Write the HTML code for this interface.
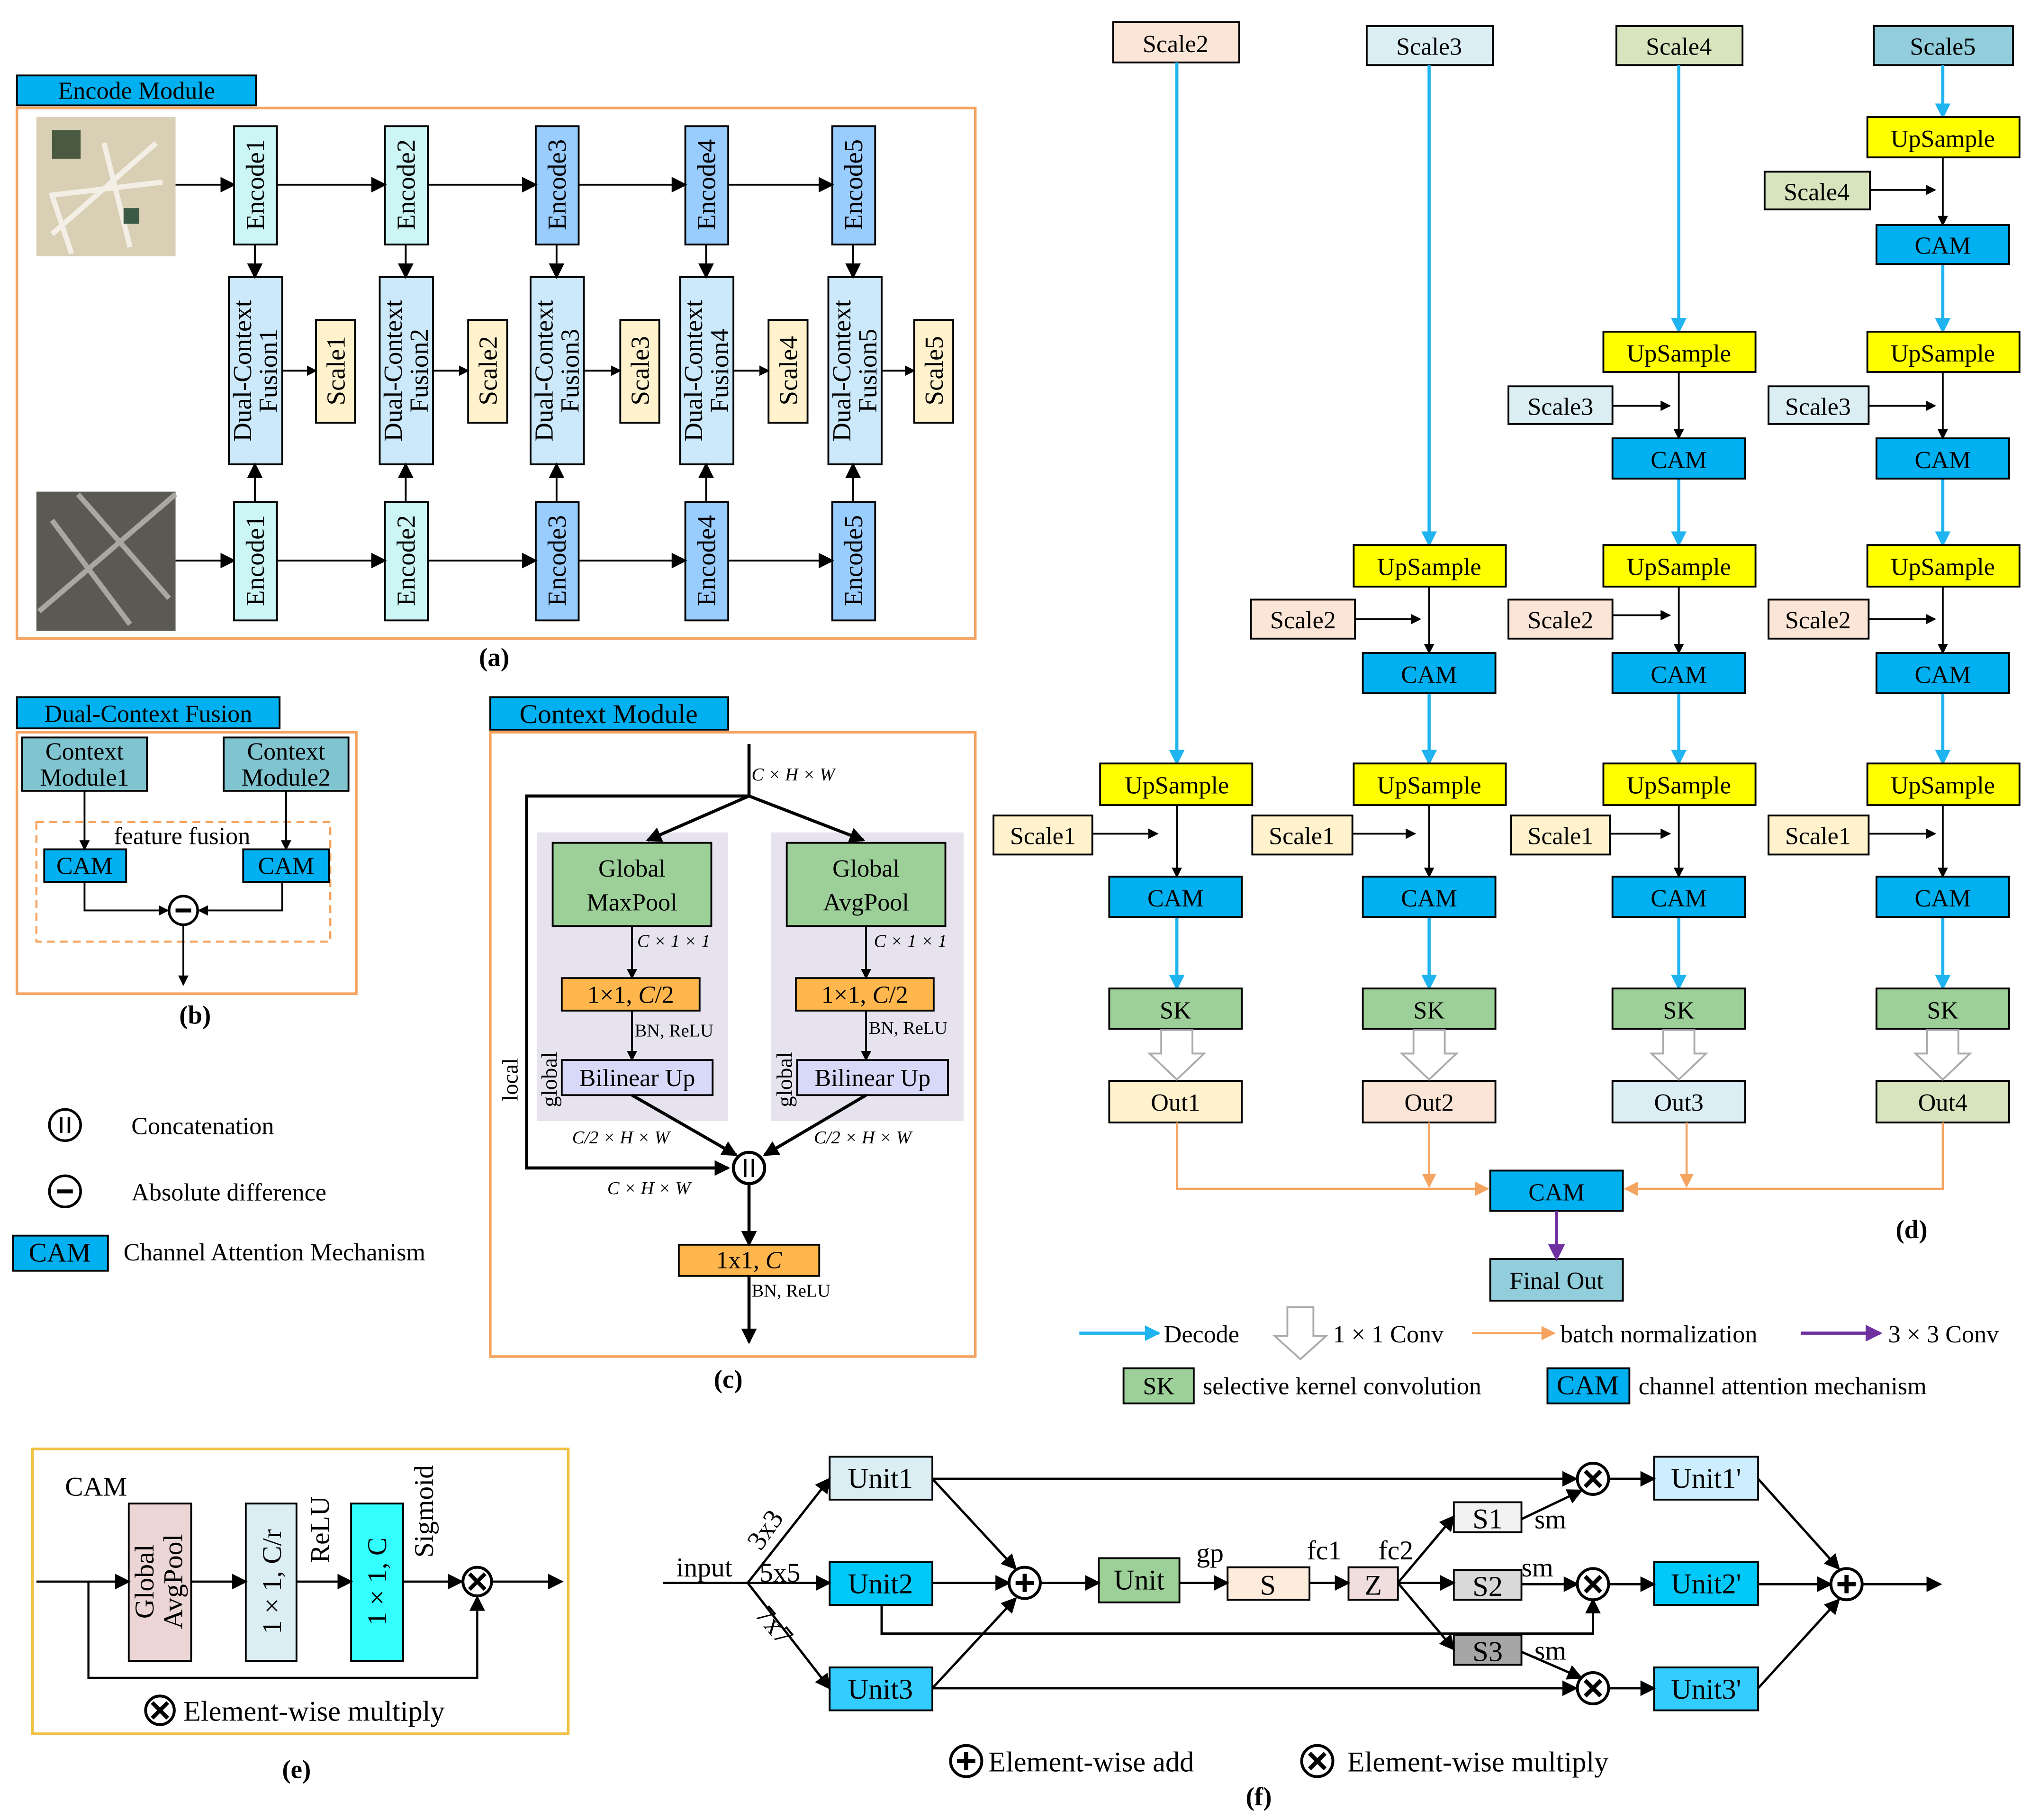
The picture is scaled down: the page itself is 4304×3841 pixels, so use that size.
<!DOCTYPE html>
<html><head><meta charset="utf-8"><style>html,body{margin:0;padding:0;background:#fff}svg{display:block}</style></head>
<body>
<svg xmlns="http://www.w3.org/2000/svg" width="4304" height="3841" viewBox="0 0 1568 1399.3" font-family="Liberation Serif, serif" font-size="19">
<defs>
<marker id="ak" markerWidth="8" markerHeight="8" refX="7" refY="4" orient="auto" markerUnits="userSpaceOnUse"><path d="M0,0 L8,4 L0,8z" fill="#000"/></marker>
<marker id="ab" viewBox="0 0 8 8" markerWidth="12" markerHeight="12" refX="7" refY="4" orient="auto" markerUnits="userSpaceOnUse"><path d="M0,0 L8,4 L0,8z" fill="#1fb4f0"/></marker>
<marker id="ao" viewBox="0 0 8 8" markerWidth="11" markerHeight="11" refX="7" refY="4" orient="auto" markerUnits="userSpaceOnUse"><path d="M0,0 L8,4 L0,8z" fill="#f4a460"/></marker>
<marker id="ap" viewBox="0 0 8 8" markerWidth="13" markerHeight="13" refX="7" refY="4" orient="auto" markerUnits="userSpaceOnUse"><path d="M0,0 L8,4 L0,8z" fill="#7030a0"/></marker>
<marker id="am" viewBox="0 0 8 8" markerWidth="12" markerHeight="12" refX="7" refY="4" orient="auto" markerUnits="userSpaceOnUse"><path d="M0,0 L8,4 L0,8z" fill="#000"/></marker>
</defs>
<g stroke-width="1.4">
<!-- (a) -->
<rect x="13" y="58" width="184" height="23" fill="#00b0f0" stroke="#000"/>
<text x="105" y="76" text-anchor="middle">Encode Module</text>
<rect x="13" y="83" width="737" height="408" fill="none" stroke="#f4a460" stroke-width="2"/>
<rect x="28" y="90" width="107" height="107" fill="#d9cfb4"/>
<path d="M40,180 L120,110 M55,195 L40,150 L125,140 M80,110 L100,190" stroke="#f3efe6" stroke-width="4" fill="none"/>
<rect x="40" y="100" width="22" height="22" fill="#4a5a40"/><rect x="95" y="160" width="12" height="12" fill="#3a5a45"/>
<rect x="28" y="378" width="107" height="107" fill="#5a5a52"/>
<path d="M30,470 L135,380 M40,400 L100,480 M60,380 L130,460" stroke="#a8a8a0" stroke-width="4" fill="none"/>
<g stroke="#000">
<line x1="135" y1="142" x2="180" y2="142" marker-end="url(#am)"/>
<line x1="135" y1="431" x2="180" y2="431" marker-end="url(#am)"/>
</g>
<g stroke="#000">
<rect x="180" y="97" width="33" height="91" fill="#ccf5f5"/><rect x="180" y="386" width="33" height="91" fill="#ccf5f5"/>
<rect x="296" y="97" width="33" height="91" fill="#ccf5f5"/><rect x="296" y="386" width="33" height="91" fill="#ccf5f5"/>
<rect x="412" y="97" width="33" height="91" fill="#99ccff"/><rect x="412" y="386" width="33" height="91" fill="#99ccff"/>
<rect x="527" y="97" width="33" height="91" fill="#99ccff"/><rect x="527" y="386" width="33" height="91" fill="#99ccff"/>
<rect x="640" y="97" width="33" height="91" fill="#99ccff"/><rect x="640" y="386" width="33" height="91" fill="#99ccff"/>
<rect x="176" y="213" width="41" height="144" fill="#cce9fb"/>
<rect x="292" y="213" width="41" height="144" fill="#cce9fb"/>
<rect x="408" y="213" width="41" height="144" fill="#cce9fb"/>
<rect x="523" y="213" width="41" height="144" fill="#cce9fb"/>
<rect x="637" y="213" width="41" height="144" fill="#cce9fb"/>
<rect x="243" y="246" width="30" height="79" fill="#fff2cc"/>
<rect x="360" y="246" width="30" height="79" fill="#fff2cc"/>
<rect x="477" y="246" width="30" height="79" fill="#fff2cc"/>
<rect x="591" y="246" width="30" height="79" fill="#fff2cc"/>
<rect x="703" y="246" width="30" height="79" fill="#fff2cc"/>
<g fill="none">
<line x1="213" y1="142" x2="296" y2="142" marker-end="url(#am)"/><line x1="329" y1="142" x2="412" y2="142" marker-end="url(#am)"/><line x1="445" y1="142" x2="527" y2="142" marker-end="url(#am)"/><line x1="560" y1="142" x2="640" y2="142" marker-end="url(#am)"/>
<line x1="213" y1="431" x2="296" y2="431" marker-end="url(#am)"/><line x1="329" y1="431" x2="412" y2="431" marker-end="url(#am)"/><line x1="445" y1="431" x2="527" y2="431" marker-end="url(#am)"/><line x1="560" y1="431" x2="640" y2="431" marker-end="url(#am)"/>
<line x1="196" y1="188" x2="196" y2="213" marker-end="url(#am)"/><line x1="312" y1="188" x2="312" y2="213" marker-end="url(#am)"/><line x1="428" y1="188" x2="428" y2="213" marker-end="url(#am)"/><line x1="543" y1="188" x2="543" y2="213" marker-end="url(#am)"/><line x1="656" y1="188" x2="656" y2="213" marker-end="url(#am)"/>
<line x1="196" y1="386" x2="196" y2="357" marker-end="url(#am)"/><line x1="312" y1="386" x2="312" y2="357" marker-end="url(#am)"/><line x1="428" y1="386" x2="428" y2="357" marker-end="url(#am)"/><line x1="543" y1="386" x2="543" y2="357" marker-end="url(#am)"/><line x1="656" y1="386" x2="656" y2="357" marker-end="url(#am)"/>
<line x1="217" y1="285" x2="243" y2="285" marker-end="url(#ak)"/><line x1="333" y1="285" x2="360" y2="285" marker-end="url(#ak)"/><line x1="449" y1="285" x2="477" y2="285" marker-end="url(#ak)"/><line x1="564" y1="285" x2="591" y2="285" marker-end="url(#ak)"/><line x1="678" y1="285" x2="703" y2="285" marker-end="url(#ak)"/>
</g>
</g>
<g font-size="20">
<text transform="translate(203,142) rotate(-90)" text-anchor="middle">Encode1</text><text transform="translate(203,431) rotate(-90)" text-anchor="middle">Encode1</text>
<text transform="translate(319,142) rotate(-90)" text-anchor="middle">Encode2</text><text transform="translate(319,431) rotate(-90)" text-anchor="middle">Encode2</text>
<text transform="translate(435,142) rotate(-90)" text-anchor="middle">Encode3</text><text transform="translate(435,431) rotate(-90)" text-anchor="middle">Encode3</text>
<text transform="translate(550,142) rotate(-90)" text-anchor="middle">Encode4</text><text transform="translate(550,431) rotate(-90)" text-anchor="middle">Encode4</text>
<text transform="translate(663,142) rotate(-90)" text-anchor="middle">Encode5</text><text transform="translate(663,431) rotate(-90)" text-anchor="middle">Encode5</text>
<text transform="translate(193,285) rotate(-90)" text-anchor="middle">Dual-Context</text><text transform="translate(213,285) rotate(-90)" text-anchor="middle">Fusion1</text>
<text transform="translate(309,285) rotate(-90)" text-anchor="middle">Dual-Context</text><text transform="translate(329,285) rotate(-90)" text-anchor="middle">Fusion2</text>
<text transform="translate(425,285) rotate(-90)" text-anchor="middle">Dual-Context</text><text transform="translate(445,285) rotate(-90)" text-anchor="middle">Fusion3</text>
<text transform="translate(540,285) rotate(-90)" text-anchor="middle">Dual-Context</text><text transform="translate(560,285) rotate(-90)" text-anchor="middle">Fusion4</text>
<text transform="translate(654,285) rotate(-90)" text-anchor="middle">Dual-Context</text><text transform="translate(674,285) rotate(-90)" text-anchor="middle">Fusion5</text>
<text transform="translate(265,285) rotate(-90)" text-anchor="middle">Scale1</text>
<text transform="translate(382,285) rotate(-90)" text-anchor="middle">Scale2</text>
<text transform="translate(499,285) rotate(-90)" text-anchor="middle">Scale3</text>
<text transform="translate(613,285) rotate(-90)" text-anchor="middle">Scale4</text>
<text transform="translate(725,285) rotate(-90)" text-anchor="middle">Scale5</text>
</g>
<text x="380" y="512" text-anchor="middle" font-weight="bold" font-size="20">(a)</text>

<!-- (b) -->
<rect x="13" y="536" width="202" height="24" fill="#00b0f0" stroke="#000"/>
<text x="114" y="555" text-anchor="middle">Dual-Context Fusion</text>
<rect x="13" y="563" width="261" height="201" fill="none" stroke="#f4a460" stroke-width="2"/>
<rect x="17" y="567" width="96" height="41" fill="#7fc4cf" stroke="#000"/>
<rect x="172" y="567" width="96" height="41" fill="#7fc4cf" stroke="#000"/>
<text x="65" y="584" text-anchor="middle">Context</text><text x="65" y="604" text-anchor="middle">Module1</text>
<text x="220" y="584" text-anchor="middle">Context</text><text x="220" y="604" text-anchor="middle">Module2</text>
<rect x="28" y="632" width="226" height="92" fill="none" stroke="#f4a460" stroke-dasharray="6,4" stroke-width="1.6"/>
<text x="140" y="649" text-anchor="middle">feature fusion</text>
<rect x="34" y="653" width="63" height="25" fill="#00b0f0" stroke="#000"/><text x="65" y="672" text-anchor="middle">CAM</text>
<rect x="187" y="653" width="66" height="25" fill="#00b0f0" stroke="#000"/><text x="220" y="672" text-anchor="middle">CAM</text>
<g stroke="#000" fill="none">
<line x1="65" y1="608" x2="65" y2="653" marker-end="url(#ak)"/><line x1="220" y1="608" x2="220" y2="653" marker-end="url(#ak)"/>
<polyline points="65,678 65,700 129,700" marker-end="url(#ak)"/><polyline points="217,678 217,700 153,700" marker-end="url(#ak)"/>
<circle cx="141" cy="700" r="11" stroke-width="2"/><line x1="135" y1="700" x2="147" y2="700" stroke-width="3"/>
<line x1="141" y1="711" x2="141" y2="757" marker-end="url(#ak)"/>
</g>
<text x="150" y="787" text-anchor="middle" font-weight="bold" font-size="20">(b)</text>

<!-- legend -->
<g stroke="#000" fill="none" stroke-width="2">
<circle cx="50" cy="865" r="12"/><line x1="47" y1="859" x2="47" y2="871"/><line x1="53" y1="859" x2="53" y2="871"/>
<circle cx="50" cy="916" r="12"/><line x1="44" y1="916" x2="56" y2="916" stroke-width="3"/>
</g>
<text x="101" y="872">Concatenation</text>
<text x="101" y="923">Absolute difference</text>
<rect x="10" y="950" width="73" height="27" fill="#00b0f0" stroke="#000"/><text x="46" y="970" text-anchor="middle" font-size="21">CAM</text>
<text x="95" y="969">Channel Attention Mechanism</text>

<!-- (c) -->
<rect x="377" y="536" width="183" height="25" fill="#00b0f0" stroke="#000"/>
<text x="468" y="556" text-anchor="middle" font-size="21">Context Module</text>
<rect x="377" y="563" width="373" height="480" fill="none" stroke="#f4a460" stroke-width="2"/>
<rect x="413" y="640" width="147" height="222" fill="#e6e3ee"/>
<rect x="593" y="640" width="148" height="222" fill="#e6e3ee"/>
<rect x="425" y="648" width="122" height="64" fill="#9dcf99" stroke="#000"/>
<rect x="605" y="648" width="122" height="64" fill="#9dcf99" stroke="#000"/>
<text x="486" y="674" text-anchor="middle">Global</text><text x="486" y="700" text-anchor="middle">MaxPool</text>
<text x="666" y="674" text-anchor="middle">Global</text><text x="666" y="700" text-anchor="middle">AvgPool</text>
<rect x="432" y="752" width="106" height="25" fill="#ffb74d" stroke="#000"/><text x="485" y="771" text-anchor="middle">1×1, <tspan font-style="italic">C</tspan>/2</text>
<rect x="612" y="752" width="106" height="25" fill="#ffb74d" stroke="#000"/><text x="665" y="771" text-anchor="middle">1×1, <tspan font-style="italic">C</tspan>/2</text>
<rect x="432" y="815" width="116" height="27" fill="#d8d8f8" stroke="#000"/><text x="490" y="835" text-anchor="middle">Bilinear Up</text>
<rect x="613" y="815" width="116" height="27" fill="#d8d8f8" stroke="#000"/><text x="671" y="835" text-anchor="middle">Bilinear Up</text>
<rect x="522" y="957" width="108" height="24" fill="#ffb74d" stroke="#000"/><text x="576" y="975" text-anchor="middle">1x1, <tspan font-style="italic">C</tspan></text>
<g stroke="#000" fill="none" stroke-width="2.4">
<line x1="576" y1="572" x2="576" y2="612"/>
<line x1="576" y1="612" x2="498" y2="646" marker-end="url(#am)"/>
<line x1="576" y1="612" x2="664" y2="646" marker-end="url(#am)"/>
<polyline points="576,612 405,612 405,898 560,898" marker-end="url(#am)"/>
<line x1="486" y1="842" x2="566" y2="888" marker-end="url(#am)"/>
<line x1="666" y1="842" x2="588" y2="888" marker-end="url(#am)"/>
<circle cx="576" cy="898" r="12"/><line x1="573" y1="891" x2="573" y2="905" stroke-width="2"/><line x1="579" y1="891" x2="579" y2="905" stroke-width="2"/>
<line x1="576" y1="910" x2="576" y2="957" marker-end="url(#am)"/>
<line x1="576" y1="981" x2="576" y2="1032" marker-end="url(#am)"/>
</g>
<g stroke="#000" fill="none" stroke-width="1.4">
<line x1="486" y1="712" x2="486" y2="752" marker-end="url(#ak)"/><line x1="666" y1="712" x2="666" y2="752" marker-end="url(#ak)"/>
<line x1="486" y1="777" x2="486" y2="815" marker-end="url(#ak)"/><line x1="666" y1="777" x2="666" y2="815" marker-end="url(#ak)"/>
</g>
<g font-size="14" font-style="italic">
<text x="578" y="600">C × H × W</text>
<text x="490" y="728">C × 1 × 1</text><text x="672" y="728">C × 1 × 1</text>
<text x="440" y="879">C/2 × H × W</text><text x="626" y="879">C/2 × H × W</text>
<text x="467" y="918">C × H × W</text>
</g>
<g font-size="14"><text x="488" y="797">BN, ReLU</text><text x="668" y="795">BN, ReLU</text><text x="578" y="997">BN,  ReLU</text></g>
<text transform="translate(398,830) rotate(-90)" text-anchor="middle" font-size="17">local</text>
<text transform="translate(428,830) rotate(-90)" text-anchor="middle" font-size="17">global</text>
<text transform="translate(609,830) rotate(-90)" text-anchor="middle" font-size="17">global</text>
<text x="560" y="1067" text-anchor="middle" font-weight="bold" font-size="20">(c)</text>

<!-- (d) -->
<g stroke="#000">
<rect x="856" y="17" width="97" height="31" fill="#fbe5d6"/><rect x="1051" y="20" width="97" height="30" fill="#daeef3"/>
<rect x="1243" y="20" width="97" height="30" fill="#d7e4bd"/><rect x="1441" y="20" width="107" height="30" fill="#92cddc"/>
</g>
<text x="904" y="40" text-anchor="middle">Scale2</text><text x="1099" y="42" text-anchor="middle">Scale3</text>
<text x="1291" y="42" text-anchor="middle">Scale4</text><text x="1494" y="42" text-anchor="middle">Scale5</text>
<g stroke="#1fb4f0" stroke-width="2.4" fill="none">
<line x1="905" y1="48" x2="905" y2="587" marker-end="url(#ab)"/>
<line x1="1099" y1="50" x2="1099" y2="419" marker-end="url(#ab)"/>
<line x1="1291" y1="50" x2="1291" y2="255" marker-end="url(#ab)"/>
<line x1="1494" y1="50" x2="1494" y2="90" marker-end="url(#ab)"/>
<line x1="1494" y1="203" x2="1494" y2="255" marker-end="url(#ab)"/>
<line x1="1494" y1="368" x2="1494" y2="419" marker-end="url(#ab)"/>
<line x1="1291" y1="368" x2="1291" y2="419" marker-end="url(#ab)"/>
<line x1="1494" y1="533" x2="1494" y2="587" marker-end="url(#ab)"/>
<line x1="1291" y1="533" x2="1291" y2="587" marker-end="url(#ab)"/>
<line x1="1099" y1="533" x2="1099" y2="587" marker-end="url(#ab)"/>
<line x1="905" y1="705" x2="905" y2="760" marker-end="url(#ab)"/>
<line x1="1099" y1="705" x2="1099" y2="760" marker-end="url(#ab)"/>
<line x1="1291" y1="705" x2="1291" y2="760" marker-end="url(#ab)"/>
<line x1="1494" y1="705" x2="1494" y2="760" marker-end="url(#ab)"/>
</g>
<g stroke="#000">
<rect x="1436" y="90" width="117" height="31" fill="#ffff00"/>
<rect x="1357" y="132" width="81" height="29" fill="#d7e4bd"/>
<rect x="1443" y="173" width="102" height="30" fill="#00b0f0"/>
<rect x="1233" y="255" width="117" height="31" fill="#ffff00"/><rect x="1436" y="255" width="117" height="31" fill="#ffff00"/>
<rect x="1160" y="297" width="80" height="29" fill="#daeef3"/><rect x="1360" y="297" width="77" height="29" fill="#daeef3"/>
<rect x="1240" y="337" width="102" height="31" fill="#00b0f0"/><rect x="1443" y="337" width="102" height="31" fill="#00b0f0"/>
<rect x="1041" y="419" width="117" height="32" fill="#ffff00"/><rect x="1233" y="419" width="117" height="32" fill="#ffff00"/><rect x="1436" y="419" width="117" height="32" fill="#ffff00"/>
<rect x="962" y="461" width="80" height="30" fill="#fbe5d6"/><rect x="1160" y="461" width="80" height="30" fill="#fbe5d6"/><rect x="1360" y="461" width="77" height="30" fill="#fbe5d6"/>
<rect x="1048" y="502" width="102" height="31" fill="#00b0f0"/><rect x="1240" y="502" width="102" height="31" fill="#00b0f0"/><rect x="1443" y="502" width="102" height="31" fill="#00b0f0"/>
<rect x="846" y="587" width="117" height="32" fill="#ffff00"/><rect x="1041" y="587" width="117" height="32" fill="#ffff00"/><rect x="1233" y="587" width="117" height="32" fill="#ffff00"/><rect x="1436" y="587" width="117" height="32" fill="#ffff00"/>
<rect x="764" y="627" width="76" height="30" fill="#fff2cc"/><rect x="963" y="627" width="77" height="30" fill="#fff2cc"/><rect x="1162" y="627" width="76" height="30" fill="#fff2cc"/><rect x="1360" y="627" width="77" height="30" fill="#fff2cc"/>
<rect x="853" y="674" width="102" height="31" fill="#00b0f0"/><rect x="1048" y="674" width="102" height="31" fill="#00b0f0"/><rect x="1240" y="674" width="102" height="31" fill="#00b0f0"/><rect x="1443" y="674" width="102" height="31" fill="#00b0f0"/>
<rect x="853" y="760" width="102" height="31" fill="#9dcf99"/><rect x="1048" y="760" width="102" height="31" fill="#9dcf99"/><rect x="1240" y="760" width="102" height="31" fill="#9dcf99"/><rect x="1443" y="760" width="102" height="31" fill="#9dcf99"/>
<rect x="853" y="831" width="102" height="32" fill="#fff2cc"/><rect x="1048" y="831" width="102" height="32" fill="#fbe5d6"/><rect x="1240" y="831" width="102" height="32" fill="#daeef3"/><rect x="1443" y="831" width="102" height="32" fill="#d7e4bd"/>
<rect x="1146" y="900" width="102" height="31" fill="#00b0f0"/>
<rect x="1146" y="968" width="102" height="32" fill="#92cddc"/>
</g>
<g text-anchor="middle">
<text x="1494" y="113">UpSample</text><text x="1397" y="154">Scale4</text><text x="1494" y="195">CAM</text>
<text x="1291" y="278">UpSample</text><text x="1494" y="278">UpSample</text>
<text x="1200" y="319">Scale3</text><text x="1398" y="319">Scale3</text>
<text x="1291" y="360">CAM</text><text x="1494" y="360">CAM</text>
<text x="1099" y="442">UpSample</text><text x="1291" y="442">UpSample</text><text x="1494" y="442">UpSample</text>
<text x="1002" y="483">Scale2</text><text x="1200" y="483">Scale2</text><text x="1398" y="483">Scale2</text>
<text x="1099" y="525">CAM</text><text x="1291" y="525">CAM</text><text x="1494" y="525">CAM</text>
<text x="905" y="610">UpSample</text><text x="1099" y="610">UpSample</text><text x="1291" y="610">UpSample</text><text x="1494" y="610">UpSample</text>
<text x="802" y="649">Scale1</text><text x="1001" y="649">Scale1</text><text x="1200" y="649">Scale1</text><text x="1398" y="649">Scale1</text>
<text x="904" y="697">CAM</text><text x="1099" y="697">CAM</text><text x="1291" y="697">CAM</text><text x="1494" y="697">CAM</text>
<text x="904" y="783">SK</text><text x="1099" y="783">SK</text><text x="1291" y="783">SK</text><text x="1494" y="783">SK</text>
<text x="904" y="854">Out1</text><text x="1099" y="854">Out2</text><text x="1291" y="854">Out3</text><text x="1494" y="854">Out4</text>
<text x="1197" y="923">CAM</text><text x="1197" y="991">Final Out</text>
</g>
<g stroke="#000" fill="none" stroke-width="1.4">
<line x1="1494" y1="121" x2="1494" y2="173" marker-end="url(#ak)"/><line x1="1438" y1="146" x2="1488" y2="146" marker-end="url(#ak)"/>
<line x1="1291" y1="286" x2="1291" y2="337" marker-end="url(#ak)"/><line x1="1494" y1="286" x2="1494" y2="337" marker-end="url(#ak)"/>
<line x1="1240" y1="312" x2="1284" y2="312" marker-end="url(#ak)"/><line x1="1437" y1="312" x2="1488" y2="312" marker-end="url(#ak)"/>
<line x1="1099" y1="451" x2="1099" y2="502" marker-end="url(#ak)"/><line x1="1291" y1="451" x2="1291" y2="502" marker-end="url(#ak)"/><line x1="1494" y1="451" x2="1494" y2="502" marker-end="url(#ak)"/>
<line x1="1042" y1="476" x2="1092" y2="476" marker-end="url(#ak)"/><line x1="1240" y1="473" x2="1284" y2="473" marker-end="url(#ak)"/><line x1="1437" y1="476" x2="1488" y2="476" marker-end="url(#ak)"/>
<line x1="905" y1="619" x2="905" y2="674" marker-end="url(#ak)"/><line x1="1099" y1="619" x2="1099" y2="674" marker-end="url(#ak)"/><line x1="1291" y1="619" x2="1291" y2="674" marker-end="url(#ak)"/><line x1="1494" y1="619" x2="1494" y2="674" marker-end="url(#ak)"/>
<line x1="840" y1="641" x2="890" y2="641" marker-end="url(#ak)"/><line x1="1040" y1="641" x2="1088" y2="641" marker-end="url(#ak)"/><line x1="1238" y1="641" x2="1284" y2="641" marker-end="url(#ak)"/><line x1="1437" y1="641" x2="1488" y2="641" marker-end="url(#ak)"/>
</g>
<g fill="#fff" stroke="#aaa" stroke-width="1.4">
<polygon points="893,792 917,792 917,810 926,810 905,830 884,810 893,810"/>
<polygon points="1087,792 1111,792 1111,810 1120,810 1099,830 1078,810 1087,810"/>
<polygon points="1279,792 1303,792 1303,810 1312,810 1291,830 1270,810 1279,810"/>
<polygon points="1482,792 1506,792 1506,810 1515,810 1494,830 1473,810 1482,810"/>
<polygon points="990,1005 1010,1005 1010,1027 1020,1027 1000,1045 980,1027 990,1027"/>
</g>
<g stroke="#f4a460" stroke-width="1.6" fill="none">
<polyline points="905,863 905,914 1144,914" marker-end="url(#ao)"/>
<line x1="1099" y1="863" x2="1099" y2="912" marker-end="url(#ao)"/>
<line x1="1297" y1="863" x2="1297" y2="912" marker-end="url(#ao)"/>
<polyline points="1494,863 1494,914 1250,914" marker-end="url(#ao)"/>
<line x1="1132" y1="1025" x2="1195" y2="1025" marker-end="url(#ao)"/>
</g>
<g stroke="#7030a0" stroke-width="2.4" fill="none">
<line x1="1197" y1="931" x2="1197" y2="968" marker-end="url(#ap)"/>
<line x1="1385" y1="1025" x2="1446" y2="1025" marker-end="url(#ap)"/>
</g>
<line x1="830" y1="1025" x2="891" y2="1025" stroke="#1fb4f0" stroke-width="2.4" marker-end="url(#ab)"/>
<text x="895" y="1032">Decode</text>
<text x="1025" y="1032">1 × 1 Conv</text>
<text x="1200" y="1032">batch normalization</text>
<text x="1452" y="1032">3 × 3 Conv</text>
<rect x="864" y="1052" width="54" height="27" fill="#9dcf99" stroke="#000"/><text x="891" y="1072" text-anchor="middle">SK</text>
<text x="925" y="1072">selective kernel convolution</text>
<rect x="1190" y="1052" width="63" height="27" fill="#00b0f0" stroke="#000"/><text x="1221" y="1072" text-anchor="middle" font-size="21">CAM</text>
<text x="1260" y="1072">channel attention mechanism</text>
<text x="1470" y="952" text-anchor="middle" font-weight="bold" font-size="20">(d)</text>

<!-- (e) -->
<rect x="25" y="1114" width="412" height="219" fill="none" stroke="#f0c040" stroke-width="2"/>
<text x="50" y="1150" font-size="21">CAM</text>
<rect x="99" y="1156" width="48" height="121" fill="#ecd5d5" stroke="#000"/>
<rect x="189" y="1156" width="39" height="121" fill="#daeef3" stroke="#000"/>
<rect x="270" y="1156" width="40" height="121" fill="#33ffff" stroke="#000"/>
<g font-size="21">
<text transform="translate(118,1216) rotate(-90)" text-anchor="middle">Global</text>
<text transform="translate(140,1216) rotate(-90)" text-anchor="middle">AvgPool</text>
<text transform="translate(216,1216) rotate(-90)" text-anchor="middle">1 × 1, C/r</text>
<text transform="translate(297,1216) rotate(-90)" text-anchor="middle">1 × 1, C</text>
<text transform="translate(253,1176) rotate(-90)" text-anchor="middle">ReLU</text>
<text transform="translate(333,1162) rotate(-90)" text-anchor="middle">Sigmoid</text>
</g>
<g stroke="#000" fill="none" stroke-width="1.6">
<line x1="28" y1="1216" x2="99" y2="1216" marker-end="url(#am)"/>
<line x1="147" y1="1216" x2="189" y2="1216" marker-end="url(#am)"/>
<line x1="228" y1="1216" x2="270" y2="1216" marker-end="url(#am)"/>
<line x1="310" y1="1216" x2="355" y2="1216" marker-end="url(#am)"/>
<line x1="378" y1="1216" x2="432" y2="1216" marker-end="url(#am)"/>
<polyline points="68,1216 68,1290 367,1290 367,1228" marker-end="url(#am)"/>
<circle cx="367" cy="1216" r="11" stroke-width="2.2"/>
<path d="M361,1210 L373,1222 M373,1210 L361,1222" stroke-width="3"/>
<circle cx="123" cy="1315" r="11" stroke-width="2.2"/>
<path d="M117,1309 L129,1321 M129,1309 L117,1321" stroke-width="3"/>
</g>
<text x="141" y="1323" font-size="22">Element-wise multiply</text>
<text x="228" y="1367" text-anchor="middle" font-weight="bold" font-size="20">(e)</text>

<!-- (f) -->
<g stroke="#000">
<rect x="638" y="1120" width="79" height="33" fill="#daeef3"/>
<rect x="638" y="1201" width="79" height="33" fill="#00c8f8"/>
<rect x="638" y="1282" width="79" height="33" fill="#33ccff"/>
<rect x="845" y="1198" width="62" height="34" fill="#9dcf99"/>
<rect x="944" y="1205" width="63" height="25" fill="#fdebdc"/>
<rect x="1037" y="1205" width="38" height="25" fill="#f0dede"/>
<rect x="1118" y="1155" width="52" height="23" fill="#f2f2f2"/>
<rect x="1118" y="1207" width="52" height="23" fill="#d9d9d9"/>
<rect x="1118" y="1257" width="52" height="23" fill="#a6a6a6"/>
<rect x="1272" y="1120" width="80" height="33" fill="#cceeff"/>
<rect x="1272" y="1201" width="80" height="33" fill="#00c8f8"/>
<rect x="1272" y="1282" width="80" height="33" fill="#33ccff"/>
</g>
<g text-anchor="middle" font-size="22">
<text x="677" y="1144">Unit1</text><text x="677" y="1225">Unit2</text><text x="677" y="1306">Unit3</text>
<text x="876" y="1222">Unit</text><text x="975" y="1226">S</text><text x="1056" y="1226">Z</text>
<text x="1144" y="1175">S1</text><text x="1144" y="1227">S2</text><text x="1144" y="1277">S3</text>
<text x="1312" y="1144">Unit1'</text><text x="1312" y="1225">Unit2'</text><text x="1312" y="1306">Unit3'</text>
</g>
<g font-size="21">
<text x="520" y="1212">input</text>
<text transform="translate(585,1193) rotate(-55)">3x3</text>
<text x="584" y="1216">5x5</text>
<text transform="translate(580,1242) rotate(50)">7x7</text>
<text x="920" y="1201">gp</text><text x="1005" y="1199">fc1</text><text x="1060" y="1199">fc2</text>
<text x="1180" y="1175">sm</text><text x="1170" y="1212">sm</text><text x="1180" y="1276">sm</text>
</g>
<g stroke="#000" fill="none" stroke-width="1.8">
<line x1="510" y1="1217" x2="638" y2="1217" marker-end="url(#am)"/>
<line x1="575" y1="1217" x2="638" y2="1137" marker-end="url(#am)"/>
<line x1="575" y1="1217" x2="638" y2="1298" marker-end="url(#am)"/>
<line x1="717" y1="1137" x2="1212" y2="1137" marker-end="url(#am)"/>
<line x1="717" y1="1298" x2="1212" y2="1298" marker-end="url(#am)"/>
<line x1="717" y1="1137" x2="781" y2="1206" marker-end="url(#am)"/>
<line x1="717" y1="1298" x2="781" y2="1229" marker-end="url(#am)"/>
<line x1="717" y1="1217" x2="776" y2="1217" marker-end="url(#am)"/>
<line x1="800" y1="1217" x2="845" y2="1217" marker-end="url(#am)"/>
<polyline points="678,1234 678,1256 1225,1256 1225,1230" marker-end="url(#am)"/>
<line x1="907" y1="1217" x2="944" y2="1217" marker-end="url(#am)"/>
<line x1="1007" y1="1217" x2="1037" y2="1217" marker-end="url(#am)"/>
<line x1="1075" y1="1217" x2="1118" y2="1217" marker-end="url(#am)"/>
<line x1="1075" y1="1217" x2="1118" y2="1166" marker-end="url(#am)"/>
<line x1="1075" y1="1217" x2="1118" y2="1268" marker-end="url(#am)"/>
<line x1="1170" y1="1168" x2="1216" y2="1146" marker-end="url(#am)"/>
<line x1="1170" y1="1218" x2="1213" y2="1218" marker-end="url(#am)"/>
<line x1="1170" y1="1270" x2="1216" y2="1290" marker-end="url(#am)"/>
<line x1="1237" y1="1137" x2="1272" y2="1137" marker-end="url(#am)"/>
<line x1="1237" y1="1218" x2="1272" y2="1218" marker-end="url(#am)"/>
<line x1="1237" y1="1298" x2="1272" y2="1298" marker-end="url(#am)"/>
<line x1="1352" y1="1137" x2="1414" y2="1206" marker-end="url(#am)"/>
<line x1="1352" y1="1298" x2="1414" y2="1230" marker-end="url(#am)"/>
<line x1="1352" y1="1218" x2="1408" y2="1218" marker-end="url(#am)"/>
<line x1="1432" y1="1218" x2="1492" y2="1218" marker-end="url(#am)"/>
</g>
<g stroke="#000" fill="#fff" stroke-width="2.2">
<circle cx="788" cy="1217" r="12"/><circle cx="1420" cy="1218" r="12"/>
<circle cx="1225" cy="1137" r="12"/><circle cx="1225" cy="1218" r="12"/><circle cx="1225" cy="1298" r="12"/>
<circle cx="743" cy="1354" r="12"/><circle cx="1013" cy="1354" r="12"/>
</g>
<g stroke="#000" stroke-width="3.2">
<path d="M781,1217 H795 M788,1210 V1224"/><path d="M1413,1218 H1427 M1420,1211 V1225"/><path d="M736,1354 H750 M743,1347 V1361"/>
<path d="M1219,1131 L1231,1143 M1231,1131 L1219,1143"/>
<path d="M1219,1212 L1231,1224 M1231,1212 L1219,1224"/>
<path d="M1219,1292 L1231,1304 M1231,1292 L1219,1304"/>
<path d="M1007,1348 L1019,1360 M1019,1348 L1007,1360"/>
</g>
<text x="760" y="1362" font-size="22">Element-wise add</text>
<text x="1036" y="1362" font-size="22">Element-wise multiply</text>
<text x="968" y="1388" text-anchor="middle" font-weight="bold" font-size="20">(f)</text>
</g>
</svg>
</body></html>
